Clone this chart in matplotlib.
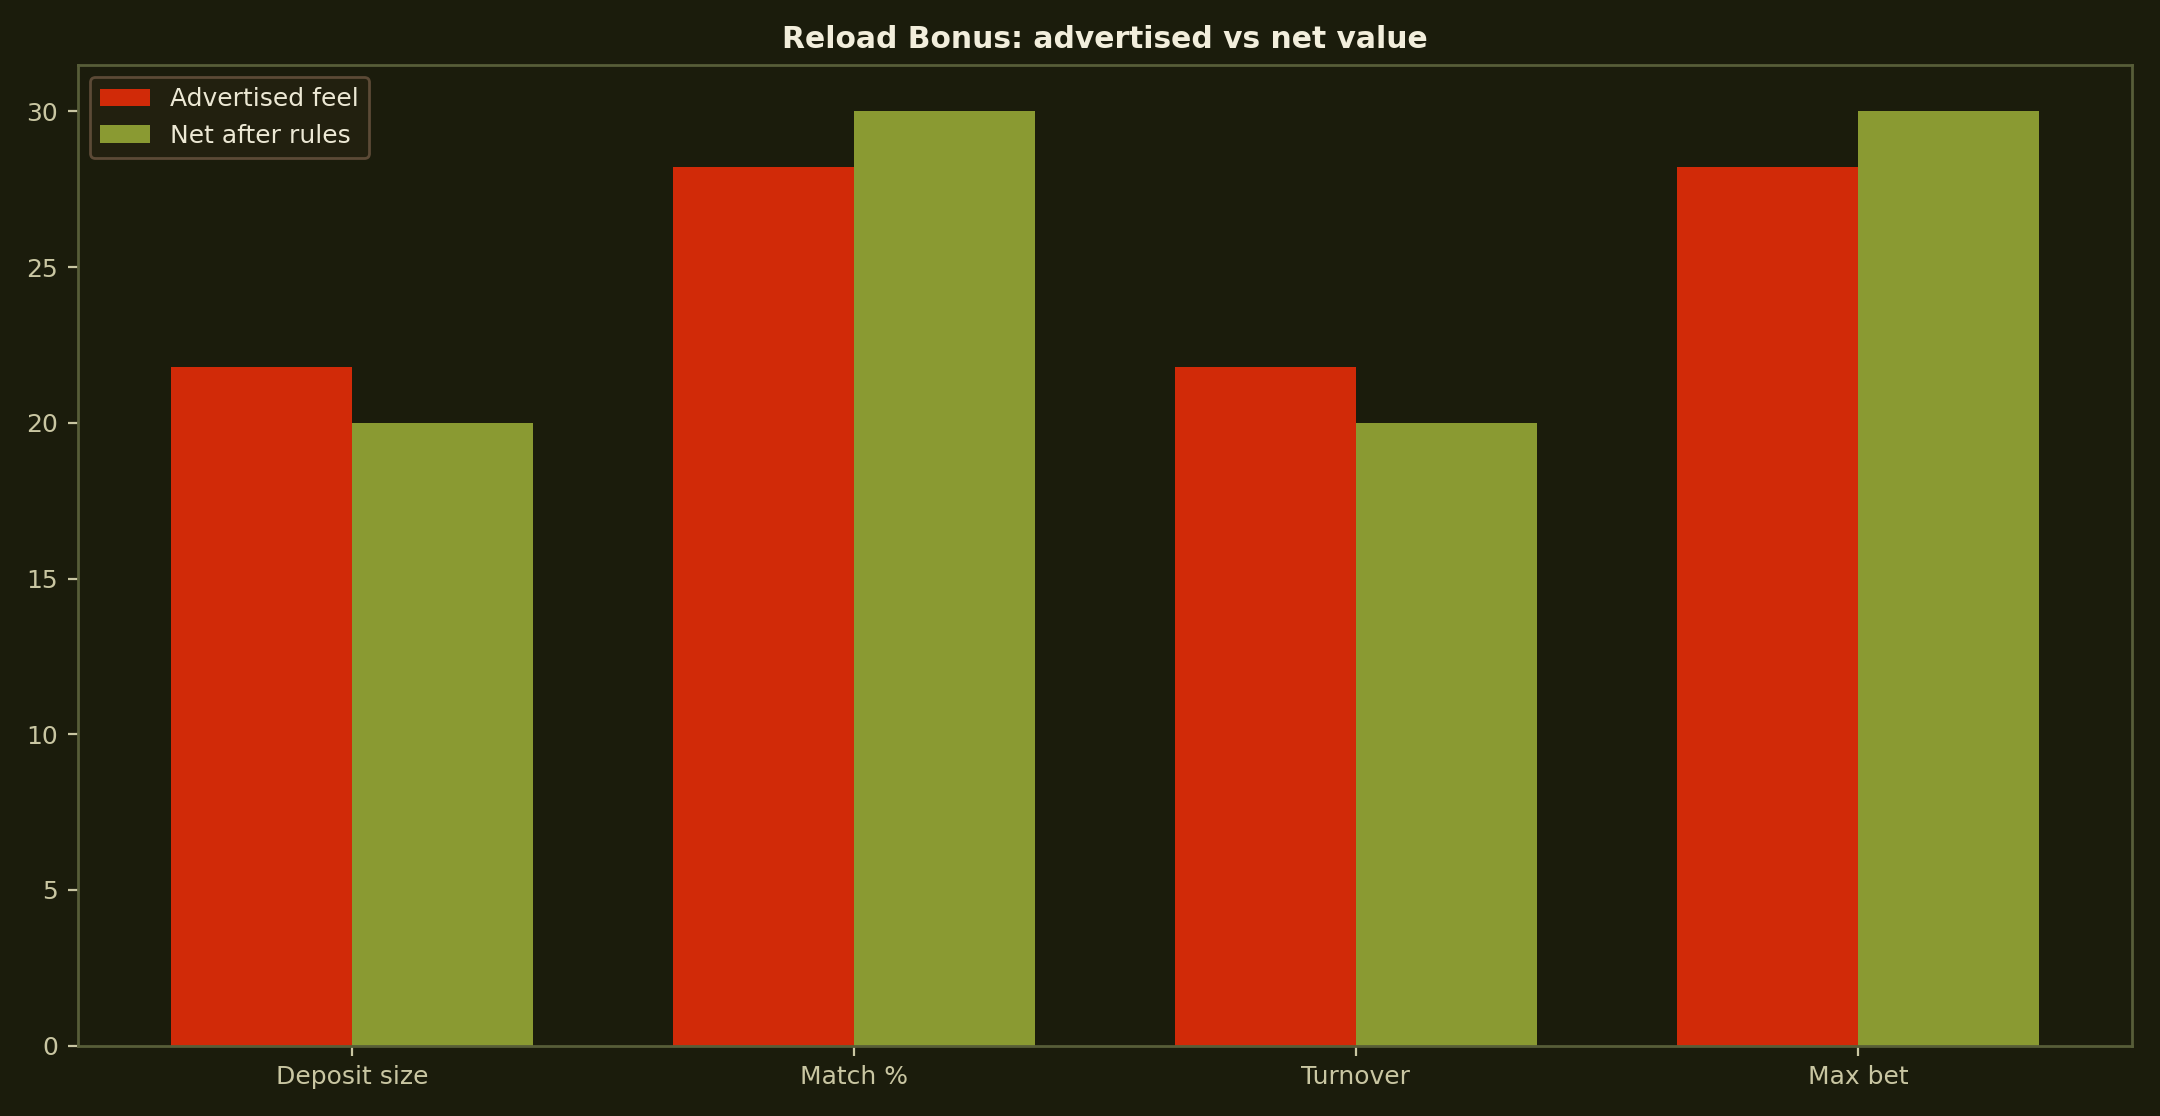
import numpy as np
import matplotlib
matplotlib.use('Agg')
import matplotlib.pyplot as plt

categories = ['Deposit size', 'Match %', 'Turnover', 'Max bet']
advertised = [21.8, 28.2, 21.8, 28.2]
net_value = [20, 30, 20, 30]
series_names = ['Advertised feel', 'Net after rules']

BG = '#1b1c0c'
RED = '#d12a08'
GREEN = '#8a9a32'
SPINE = '#575d38'
TICK = '#c9c6a2'
TITLE = '#f2eedc'

fig, ax = plt.subplots(figsize=(10.8, 5.58), dpi=200)
fig.patch.set_facecolor(BG)
ax.set_facecolor(BG)

x = np.arange(len(categories))
w = 0.36
ax.bar(x - w / 2, advertised, w, color=RED, label=series_names[0])
ax.bar(x + w / 2, net_value, w, color=GREEN, label=series_names[1])

ax.set_xticks(x)
ax.set_xticklabels(categories)
ax.tick_params(colors=TICK, labelsize=9)
for s in ax.spines.values():
    s.set_color(SPINE)
    s.set_linewidth(1.0)

ax.set_title('Reload Bonus: advertised vs net value', color=TITLE,
             fontsize=10.7, fontweight='bold')

leg = ax.legend(loc='upper left', fontsize=9, facecolor='#22200f',
                edgecolor='#5c4a36', labelcolor='#ece8d4', framealpha=1)

fig.subplots_adjust(left=0.036, right=0.987, top=0.942, bottom=0.063)
fig.savefig('out.png', dpi=200, facecolor=BG)
